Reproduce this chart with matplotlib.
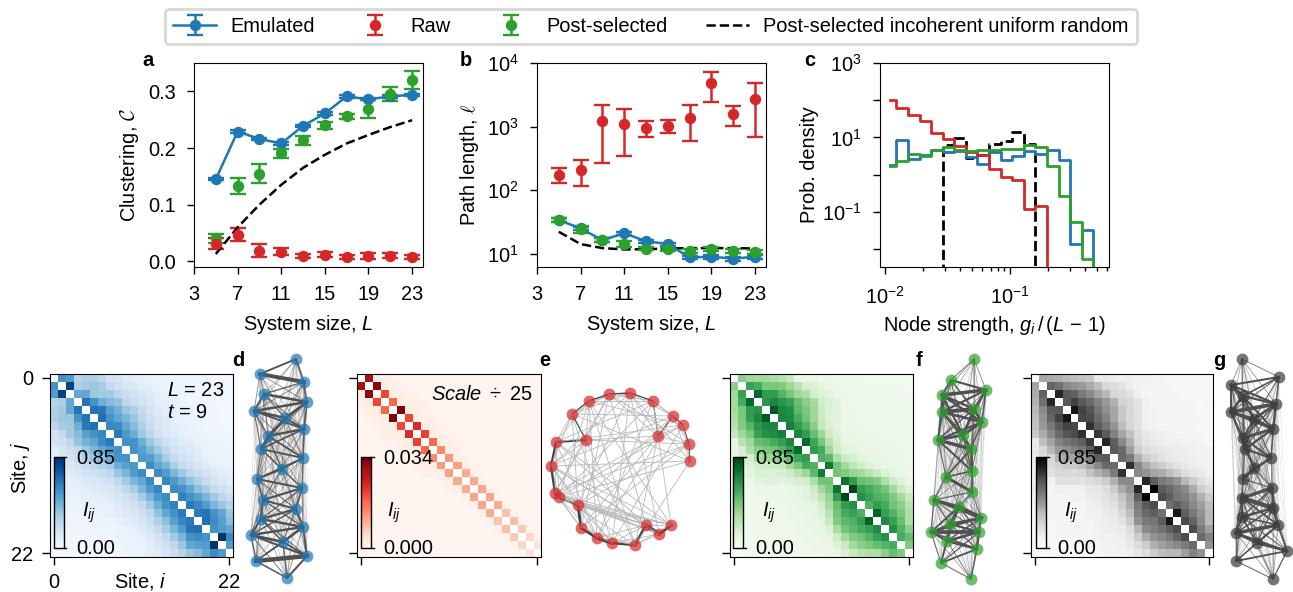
import numpy as np
import matplotlib
matplotlib.use('Agg')
import matplotlib.pyplot as plt
from matplotlib.colors import PowerNorm
from matplotlib.ticker import NullLocator, NullFormatter, LogLocator

plt.rcParams['font.family'] = ['Liberation Sans', 'DejaVu Sans']
plt.rcParams['font.size'] = 14.4
plt.rcParams['mathtext.fontset'] = 'custom'
plt.rcParams['mathtext.rm'] = 'Liberation Sans'
plt.rcParams['mathtext.it'] = 'Liberation Sans:italic'
plt.rcParams['mathtext.bf'] = 'Liberation Sans:bold'

W, H = 1293, 592

# panels a, b
sizes = [5, 7, 9, 11, 13, 15, 17, 19, 21, 23]
clu_emu = [.145, .229, .216, .208, .239, .261, .291, .286, .291, .294]
clu_emu_err = [.002, .003, .002, .002, .002, .002, .002, .002, .002, .002]
clu_raw = [.031, .047, .019, .017, .0095, .012, .008, .010, .010, .008]
clu_raw_err = [.010, .011, .012, .006, .004, .004, .004, .005, .004, .003]
clu_post = [.041, .133, .155, .191, .214, .240, .256, .269, .295, .320]
clu_post_err = [.008, .014, .016, .008, .008, .0065, .004, .016, .012, .016]
clu_unif = [.013, .060, .100, .135, .165, .188, .208, .223, .237, .249]

path_emu = [34, 25, 16.4, 21, 15.8, 14.2, 8.75, 9, 8.4, 9]
path_emu_err = [2, 1.5, 1, 1.2, .9, .8, .6, .6, .6, .6]
path_raw = [174, 208, 1205, 1107, 946, 1005, 1375, 4790, 1590, 2710]
path_raw_lo = [128, 117, 265, 350, 698, 798, 597, 2400, 1016, 675]
path_raw_hi = [221, 300, 2180, 1880, 1205, 1265, 2150, 7230, 2100, 4840]
path_post = [34, 24.2, 16.4, 14.4, 12.1, 11.7, 11.1, 11.9, 11.1, 10.7]
path_post_err = [2, 3, 1.2, 1.5, .6, .6, .8, .8, .9, .8]
path_unif = [22.2, 14.2, 12.3, 11.7, 11.8, 12.1, 12.3, 12.3, 12.3, 12.1]

# panel c
strength = [.0110, .0136, .0168, .0209, .0258, .0320, .0396, .0490, .0607, .0752,
            .0931, .1152, .1427, .1767, .2187, .2708, .3352, .4150, .5138]
dens_emu = [1.84, 8.3, 2.67, 3.28, 4.66, 3.95, 4.21, 2.96, 1.96, 4.03,
            2.41, 3.21, 4.38, 3.64, 4.48, 2.41, .0139, .033, 0]
dens_raw = [99, 61.5, 40.6, 26.9, 13.1, 9.2, 5.97, 4.03, 3.42, 1.41,
            .86, .70, .121, .14, 0, 0, 0, 0, 0]
dens_post = [1.73, 2.26, 3.64, 3.21, 4.66, 5.5, 4.48, 4.21, 4.48, 4.48,
             4.85, 4.95, 6.2, 5.5, 1.66, .27, .055, .0054, 0]
dens_unif = [0, 0, 0, 0, 0, 6.35, 9.6, 2.8, 3.4, 6.76,
             7.8, 13.9, 6.76, 0, 0, 0, 0, 0, 0]

# heatmaps, upper triangle rows in percent of the colour bar top
blue_rows = [
    [55, 50, 22, 25, 25, 20, 12, 12, 7, 6, 5, 4, 3, 3, 2, 2, 2, 2, 2, 1, 1, 1],
    [92, 25, 28, 30, 27, 18, 14, 10, 9, 6, 5, 4, 3, 3, 2, 2, 2, 2, 1, 1, 1],
    [45, 45, 30, 28, 28, 20, 15, 12, 9, 7, 5, 4, 3, 3, 2, 2, 2, 1, 1, 1],
    [68, 55, 42, 35, 32, 20, 16, 12, 9, 6, 5, 4, 3, 2, 2, 2, 1, 1, 1],
    [68, 66, 48, 40, 30, 25, 17, 12, 8, 6, 5, 4, 3, 2, 2, 2, 1, 1],
    [70, 55, 45, 38, 30, 20, 14, 9, 7, 5, 4, 3, 3, 2, 2, 1, 1],
    [60, 58, 45, 35, 25, 16, 11, 8, 6, 5, 4, 3, 2, 2, 1, 1],
    [65, 52, 42, 28, 20, 13, 9, 7, 5, 4, 3, 2, 2, 2, 1],
    [55, 55, 42, 30, 20, 14, 10, 7, 6, 4, 3, 3, 2, 2],
    [55, 48, 38, 28, 20, 13, 10, 8, 6, 4, 3, 3, 2],
    [52, 50, 38, 26, 18, 13, 10, 7, 5, 4, 3, 3],
    [58, 45, 38, 26, 18, 14, 10, 7, 5, 4, 3],
    [58, 50, 38, 28, 20, 15, 12, 8, 6, 5],
    [60, 52, 42, 32, 24, 17, 12, 9, 6],
    [58, 55, 45, 34, 26, 18, 14, 10],
    [62, 55, 48, 38, 28, 20, 15],
    [65, 60, 50, 38, 30, 22],
    [65, 68, 55, 45, 30],
    [70, 58, 48, 35],
    [55, 50, 45],
    [100, 58],
    [50],
]
red_rows = [
    [85, 6, 2, 2, 1],
    [92, 6, 3, 2, 1],
    [60, 4, 3, 2, 1],
    [50, 4, 3, 3, 2],
    [95, 5, 5, 2, 1],
    [60, 5, 3, 3],
    [68, 5, 3, 2],
    [62, 5, 3, 2],
    [50, 5, 3, 2],
    [40, 3, 2],
    [35, 3, 2],
    [33, 3, 2],
    [30, 3, 1],
    [30, 2, 1],
    [32, 2, 1],
    [32, 2, 1],
    [30, 2, 1],
    [22, 2],
    [24, 1],
    [20, 1],
    [15, 1],
    [10],
]
green_rows = [
    [35, 30, 28, 28, 25, 22, 18, 5, 5, 5, 3, 3, 2, 2, 2, 2, 1, 1, 1, 1, 1, 1],
    [60, 55, 40, 40, 38, 30, 22, 12, 10, 8, 4, 3, 3, 3, 3, 2, 2, 2, 2, 2, 1],
    [85, 62, 62, 50, 40, 30, 25, 13, 10, 8, 4, 3, 3, 3, 3, 2, 2, 2, 2, 2],
    [65, 72, 65, 60, 45, 35, 28, 14, 11, 8, 4, 3, 3, 3, 3, 3, 2, 2, 2],
    [92, 72, 68, 48, 40, 30, 16, 11, 9, 4, 3, 3, 3, 3, 3, 2, 2, 2],
    [72, 70, 55, 42, 30, 16, 10, 9, 4, 4, 3, 3, 3, 3, 2, 2, 2],
    [75, 62, 50, 35, 18, 12, 8, 4, 4, 3, 3, 3, 3, 3, 2, 2],
    [72, 62, 45, 30, 15, 10, 6, 5, 4, 4, 3, 3, 3, 2, 2],
    [85, 58, 40, 22, 12, 7, 6, 5, 4, 4, 4, 3, 3, 2],
    [62, 55, 30, 14, 9, 8, 6, 5, 5, 4, 4, 3, 3],
    [52, 48, 25, 15, 12, 8, 7, 5, 5, 4, 4, 3],
    [78, 42, 28, 20, 14, 10, 7, 5, 5, 4, 3],
    [42, 38, 32, 28, 22, 16, 10, 7, 5, 4],
    [80, 62, 45, 42, 38, 25, 15, 10, 6],
    [100, 62, 55, 48, 42, 28, 16, 10],
    [68, 60, 52, 48, 38, 28, 16],
    [52, 62, 55, 42, 35, 22],
    [88, 60, 50, 40, 25],
    [70, 60, 45, 25],
    [68, 50, 35],
    [55, 45],
    [38],
]
gray_rows = [
    [32, 30, 28, 26, 24, 22, 20, 7, 7, 6, 5, 5, 4, 4, 3, 3, 2, 2, 2, 2, 2, 2],
    [58, 52, 42, 38, 36, 30, 24, 14, 12, 10, 6, 4, 3, 3, 3, 3, 2, 2, 2, 2, 2],
    [82, 62, 58, 48, 42, 32, 26, 15, 13, 10, 5, 3, 3, 3, 3, 3, 2, 2, 2, 2],
    [62, 72, 62, 55, 45, 36, 28, 16, 14, 10, 5, 3, 3, 3, 3, 3, 3, 2, 3],
    [90, 72, 65, 50, 40, 32, 20, 14, 10, 5, 4, 3, 3, 3, 3, 3, 2, 2],
    [70, 68, 55, 44, 32, 20, 13, 10, 5, 4, 3, 3, 3, 3, 3, 3, 2],
    [78, 60, 50, 38, 24, 15, 10, 5, 4, 3, 3, 3, 3, 3, 2, 2],
    [75, 62, 45, 32, 22, 12, 8, 6, 5, 4, 3, 3, 3, 3, 2],
    [82, 60, 42, 28, 14, 9, 7, 6, 5, 5, 4, 4, 3, 2],
    [62, 55, 34, 18, 12, 10, 8, 7, 6, 6, 5, 4, 4],
    [55, 48, 28, 18, 14, 10, 8, 7, 6, 5, 4, 4],
    [78, 42, 30, 22, 18, 14, 10, 7, 6, 5, 4],
    [42, 38, 32, 30, 24, 18, 12, 9, 7, 5],
    [82, 60, 48, 44, 38, 26, 18, 12, 8],
    [100, 62, 55, 48, 42, 30, 18, 12],
    [68, 60, 50, 46, 38, 28, 18],
    [52, 60, 52, 42, 34, 24],
    [88, 60, 48, 38, 26],
    [68, 58, 42, 26],
    [68, 48, 34],
    [55, 44],
    [38],
]

d_x = [296, 260, 304, 264, 307, 254, 285, 304, 268, 261, 303, 282, 257, 302, 263, 296, 261, 303, 251, 283, 307, 256, 287]
d_y = [359, 374, 382, 394, 402, 411, 418, 429, 436, 449, 458, 469, 479, 488, 500, 509, 519, 527, 535, 542, 556, 561, 578]
e_x = [671, 659, 646, 635, 612, 597, 581, 578, 559, 555, 551, 556, 586, 572, 589, 609, 630, 653, 658, 673, 683, 689, 690]
e_y = [525, 534, 525, 545, 543, 538, 528, 505, 497, 493, 466, 442, 440, 414, 401, 394, 393, 401, 436, 416, 425, 444, 461]
f_x = [974, 951, 986, 942, 974, 942, 982, 963, 938, 971, 972, 946, 972, 934, 959, 981, 950, 931, 979, 947, 977, 941, 971]
f_y = [359, 380, 390, 395, 409, 412, 422, 435, 440, 449, 471, 477, 492, 500, 507, 518, 524, 532, 532, 541, 549, 563, 579]
g_x = [1242, 1279, 1231, 1243, 1276, 1231, 1254, 1273, 1243, 1245, 1271, 1254, 1243, 1272, 1242, 1273, 1242, 1278, 1236, 1257, 1287, 1236, 1273]
g_y = [359, 377, 385, 396, 404, 412, 419, 429, 438, 449, 458, 468, 479, 488, 498, 508, 517, 525, 533, 543, 551, 561, 579]
e_chords = [(0, 7), (0, 8), (0, 9), (0, 10), (0, 11), (1, 7), (1, 8), (1, 9), (1, 10), (2, 7), (2, 8), (2, 9),
            (2, 10), (2, 11), (3, 9), (3, 12), (3, 14), (4, 10), (4, 13), (4, 16), (5, 11), (5, 14), (5, 17),
            (6, 12), (6, 15), (6, 18), (7, 13), (7, 16), (7, 19), (7, 21), (8, 14), (8, 17), (8, 20), (8, 22),
            (9, 15), (9, 18), (9, 21), (10, 16), (10, 19), (10, 22), (11, 17), (11, 20), (12, 18), (12, 21),
            (13, 19), (13, 22), (14, 20), (15, 21), (16, 22), (3, 18), (4, 20), (5, 19), (6, 21), (1, 16),
            (2, 15), (0, 17), (0, 14), (3, 22)]

BLUE, RED, GREEN = '#1f77b4', '#d62728', '#2ca02c'
NODE_GRAY = '#3a3a3a'


def box(l, t, r, b):
    return fig.add_axes([l / W, 1 - b / H, (r - l) / W, (b - t) / H])


def label(x, y, s, **kw):
    fig.text(x / W, 1 - y / H, s, **kw)


def to_matrix(rows):
    m = np.full((23, 23), np.nan)
    for i, row in enumerate(rows):
        vals = np.array(row, dtype=float)
        m[i, i + 1:i + 1 + len(vals)] = vals
    m = np.where(np.isnan(m), 0, m)
    m = m + m.T
    np.fill_diagonal(m, np.nan)
    return m


def errbars(ax, y, err, color, line=False):
    return ax.errorbar(sizes, y, yerr=err, color=color, fmt='o-' if line else 'o', ms=7.2, lw=1.8,
                       capsize=6, capthick=1.7, elinewidth=1.8)


def heatmap(l, r, m, cmap, top, cb_l, top_txt, bot_txt, txt_x, lab_x, gamma=1.0):
    ax = box(l, 374, r, 557)
    cm = plt.get_cmap(cmap).copy()
    cm.set_bad('white')
    norm = PowerNorm(gamma, vmin=0, vmax=top)
    im = ax.imshow(m / 100 * top, cmap=cm, norm=norm, interpolation='nearest', aspect='auto')
    ax.set_xticks([0, 22])
    ax.set_yticks([0, 22])
    ax.tick_params(length=5.7, width=1, pad=6, labelbottom=False, labelleft=False)
    cax = box(cb_l, 457, cb_l + 10, 548)
    cb = fig.colorbar(im, cax=cax, ticks=[])
    cb.outline.set_linewidth(1)
    for v in (0, top):
        cax.plot([1, 1.25], [v, v], color='k', lw=1, clip_on=False)
    label(txt_x, 458, top_txt, va='center', ha='left')
    label(txt_x, 549, bot_txt, va='center', ha='left')
    label(lab_x, 513, r'$I_{ij}$', va='center', ha='left')
    return ax


def graph(xs, ys, m, color, chords=None):
    l, r = min(xs) - 8, max(xs) + 8
    t, b = min(ys) - 8, max(ys) + 8
    ax = box(l, t, r, b)
    ax.set_xlim(l, r)
    ax.set_ylim(b, t)
    ax.axis('off')
    for i in range(23):
        for j in range(i + 1, 23):
            w = m[i, j]
            if chords is None:
                lw = 0.2 + 3 * (w / 100) ** 1.6
                ax.plot([xs[i], xs[j]], [ys[i], ys[j]], color='#505050', lw=lw,
                        alpha=min(1, 0.3 + w / 80), zorder=1)
            elif j - i == 1:
                ax.plot([xs[i], xs[j]], [ys[i], ys[j]], color='#444444', lw=0.5 + 1.4 * w / 100 + 0.6 * (i < 12), zorder=1)
            elif j - i <= 3:
                ax.plot([xs[i], xs[j]], [ys[i], ys[j]], color='#b8b8b8', lw=0.6, zorder=1)
    if chords is not None:
        for i, j in chords:
            ax.plot([xs[i], xs[j]], [ys[i], ys[j]], color='#b8b8b8', lw=0.6, zorder=1)
    ax.scatter(xs, ys, s=72, color=color, alpha=0.7, lw=0, zorder=2)


fig = plt.figure(figsize=(W / 100, H / 100), dpi=100)

# panel a
ax_a = box(194, 63, 423, 267)
h_emu = errbars(ax_a, clu_emu, clu_emu_err, BLUE, line=True)
h_post = errbars(ax_a, clu_post, clu_post_err, GREEN)
h_raw = errbars(ax_a, clu_raw, clu_raw_err, RED)
h_unif, = ax_a.plot(sizes, clu_unif, color='k', ls='--', lw=1.8)
ax_a.set_xlim(3, 24)
ax_a.set_ylim(-0.01, 0.35)
ax_a.set_yticks([0, 0.1, 0.2, 0.3])
ax_a.set_ylabel(r'Clustering, $\mathcal{C}$', math_fontfamily='cm', labelpad=5)

# panel b
ax_b = box(537, 63, 766, 267)
ax_b.set_yscale('log')
raw_lo = np.array(path_raw) - np.array(path_raw_lo)
raw_hi = np.array(path_raw_hi) - np.array(path_raw)
errbars(ax_b, path_raw, [raw_lo, raw_hi], RED)
errbars(ax_b, path_emu, path_emu_err, BLUE, line=True)
errbars(ax_b, path_post, path_post_err, GREEN)
ax_b.plot(sizes, path_unif, color='k', ls='--', lw=1.8, zorder=1.5)
ax_b.set_xlim(3, 24)
ax_b.set_ylim(6.2, 1e4)
ax_b.yaxis.set_minor_locator(NullLocator())
ax_b.set_ylabel(r'Path length, $\ell$', math_fontfamily='cm', labelpad=4)

for ax in (ax_a, ax_b):
    ax.set_xticks([3, 7, 11, 15, 19, 23])
    ax.set_xlabel(r'System size, $L$', labelpad=6)

# panel c
ax_c = box(880, 63, 1109, 267)
ax_c.set_xscale('log')
ax_c.set_yscale('log')
floor = 1e-6
ax_c.step(strength, np.maximum(dens_unif, floor), where='mid', color='k', ls='--', lw=2)
ax_c.step(strength, np.maximum(dens_emu, floor), where='mid', color=BLUE, lw=2)
ax_c.step(strength, np.maximum(dens_raw, floor), where='mid', color=RED, lw=2)
ax_c.step(strength, np.maximum(dens_post, floor), where='mid', color=GREEN, lw=2)
ax_c.set_xlim(0.0091, 0.62)
ax_c.set_ylim(0.0033, 1000)
ax_c.set_xticks([0.01, 0.1], labels=[r'$10^{-2}$', r'$10^{-1}$'])
ax_c.xaxis.set_minor_locator(LogLocator(base=10, subs=range(2, 10), numticks=12))
ax_c.xaxis.set_minor_formatter(NullFormatter())
ax_c.yaxis.set_minor_locator(NullLocator())
ax_c.set_yticks([0.01, 0.1, 1, 10, 100, 1000], labels=['', r'$10^{-1}$', '', r'$10^{1}$', '', r'$10^{3}$'])
ax_c.set_xlabel(r'Node strength, $g_i\,/\,(L\,-\,1)$', labelpad=5)
ax_c.set_ylabel('Prob. density', labelpad=2)

for ax in (ax_a, ax_b, ax_c):
    ax.tick_params(which='major', length=4.8, width=1, pad=8.5)
    ax.tick_params(which='minor', length=3, width=1)

fig.legend([h_emu, h_raw, h_post, h_unif],
           ['Emulated', 'Raw', 'Post-selected', 'Post-selected incoherent uniform random'],
           ncol=4, loc='center', bbox_to_anchor=(651 / W, 1 - 26 / H), fontsize=14.4,
           handlelength=2.15, columnspacing=1.9, handletextpad=0.72, borderpad=0.4,
           fancybox=True, edgecolor='#d8d8d8', framealpha=1).get_frame().set_linewidth(2)

# heatmaps and graphs
m_blue, m_red, m_green, m_gray = [to_matrix(r) for r in (blue_rows, red_rows, green_rows, gray_rows)]

ax_d = heatmap(50, 233, m_blue, 'Blues', 0.85, 54, '0.85', '0.00', 76, 82, gamma=0.8)
ax_d.set_xticklabels(['0', '22'])
ax_d.set_yticklabels(['0', '22'])
ax_d.tick_params(labelbottom=True, labelleft=True)
label(140, 581, r'Site, $i$', ha='center', va='center')
label(20, 468, r'Site, $j$', ha='center', va='center', rotation=90)
label(224, 391, r'$L$ = 23', ha='right', va='center')
label(167, 412, r'$t$ = 9', ha='left', va='center')

heatmap(357, 541, m_red, 'Reds', 0.034, 361, '0.034', '0.000', 383, 387)
label(431, 395, r'$Scale\ \div\ 25$', ha='left', va='center')
heatmap(730, 913, m_green, 'Greens', 0.85, 733, '0.85', '0.00', 755, 762, gamma=0.8)
heatmap(1031, 1213, m_gray, 'Greys', 0.85, 1036, '0.85', '0.00', 1057, 1064, gamma=0.7)

graph(d_x, d_y, m_blue, BLUE)
graph(e_x, e_y, m_red, RED, chords=e_chords)
graph(f_x, f_y, m_green, GREEN)
graph(g_x, g_y, m_gray, NODE_GRAY)

for s, x, y in [('a', 148, 60), ('b', 466, 60), ('c', 810, 60), ('d', 238, 360),
                ('e', 545, 361), ('f', 919, 360), ('g', 1219, 361)]:
    label(x, y, s, fontweight='bold', ha='center', va='center', fontsize=14.4)

fig.savefig('out.png', dpi=100)
